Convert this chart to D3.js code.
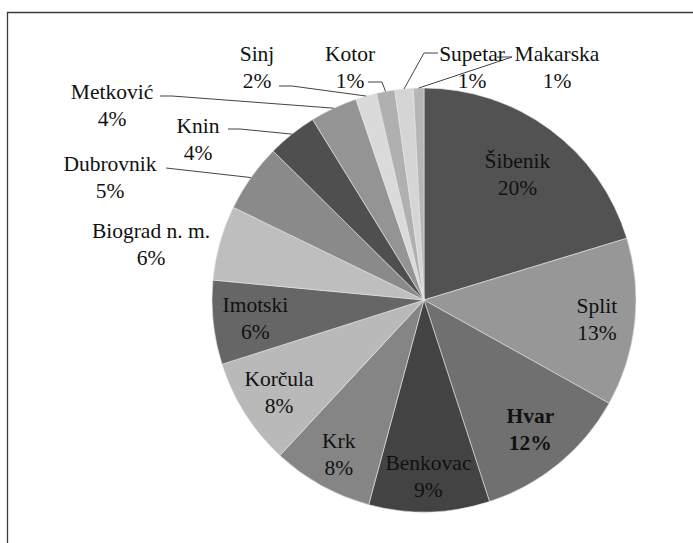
<!DOCTYPE html>
<html>
<head>
<meta charset="utf-8">
<script src="https://cdn.jsdelivr.net/npm/d3@7"></script>
<style>
	body { margin: 0; background: #fff; }
</style>
</head>
<body>
<div id="chart"></div>
<script>
// data //
var towns = ['Šibenik', 'Split', 'Hvar', 'Benkovac', 'Krk', 'Korčula', 'Imotski', 'Biograd n. m.',
	'Dubrovnik', 'Knin', 'Metković', 'Sinj', 'Kotor', 'Supetar', 'Makarska']
var shares = [20.3, 12.8, 11.9, 9.2, 7.7, 8.2, 6.4, 5.7, 5.2, 3.8, 3.6, 1.6, 1.4, 1.4, 0.8]
var shades = ['#525252', '#979797', '#707070', '#434343', '#858585', '#b9b9b9', '#666666', '#bebebe',
	'#8a8a8a', '#4f4f4f', '#949494', '#dadada', '#b0b0b0', '#d5d5d5', '#b6b6b6']
var boldTowns = ['Hvar']

// layout //
var visWidth = 693,
		visHeight = 543,
		cx = 424,
		cy = 300,
		radius = 212,
		lineGap = 27,
		labelFont = "'Liberation Serif', 'Times New Roman', serif"

// inside labels: how far out (share of radius) each one sits
var insideLabels = {
	'Šibenik': 0.74,
	'Split': 0.82,
	'Hvar': 0.79,
	'Benkovac': 0.83,
	'Krk': 0.83,
	'Korčula': 0.81,
	'Imotski': 0.8
}

// labels that sit outside the pie, with the stub where the leader line starts
var outsideLabels = {
	'Biograd n. m.': { x: 151, y: 230 },
	'Dubrovnik': { x: 110, y: 163, stub: [[166, 168]] },
	'Knin': { x: 198, y: 125, stub: [[228, 129], [240, 129]] },
	'Metković': { x: 112, y: 91, stub: [[160, 96], [172, 96]] },
	'Sinj': { x: 257, y: 53, stub: [[279, 86], [292, 86]] },
	'Kotor': { x: 350, y: 53, stub: [[368, 82], [382, 82]] },
	'Supetar': { x: 472, y: 53, stub: [[438, 53], [424, 53]] },
	'Makarska': { x: 557, y: 53, stub: [[497, 57], [512, 57]] }
}

var total = d3.sum(shares)
var slices = towns.map(function(t, i) {
	return { town: t, share: shares[i], shade: shades[i] }
})

var vis = d3.select('#chart')
	.append('svg')
		.attr('width', visWidth)
		.attr('height', visHeight)

// frame (only top and left edges show in the crop)
vis.append('path')
	.attr('d', 'M7.5,' + visHeight + 'V12.5H' + visWidth)
	.attr('fill', 'none')
	.attr('stroke', '#3a3a3a')
	.attr('stroke-width', 1.3)

var pie = d3.pie()
	.sort(null)
	.value(function(d) { return d.share })

var arc = d3.arc()
	.innerRadius(0)
	.outerRadius(radius)

var edgeArc = d3.arc()
	.innerRadius(radius)
	.outerRadius(radius)

var g = vis.append('g')
	.attr('transform', 'translate(' + cx + ',' + cy + ')')

var arcs = pie(slices)

g.selectAll('path.slice')
		.data(arcs).enter()
	.append('path')
		.attr('class', 'slice')
		.attr('d', arc)
		.attr('fill', function(d) { return d.data.shade })
		.attr('stroke', '#e6e6e6')
		.attr('stroke-width', 0.6)

// leader lines
var line = d3.line()
arcs.forEach(function(d) {
	var o = outsideLabels[d.data.town]
	if (!o || !o.stub) return
	var end = edgeArc.centroid(d)
	var pts = o.stub.map(function(p) { return [p[0] - cx, p[1] - cy] })
	pts.push(end)
	g.append('path')
		.attr('d', line(pts))
		.attr('fill', 'none')
		.attr('stroke', '#444')
		.attr('stroke-width', 1)
})

// labels
arcs.forEach(function(d) {
	var o = outsideLabels[d.data.town],
			x, y1
	if (o) {
		x = o.x - cx
		y1 = o.y - cy
	} else {
		var k = insideLabels[d.data.town] || 0.8
		var c = d3.arc().innerRadius(radius * k).outerRadius(radius * k).centroid(d)
		x = c[0]
		y1 = c[1] - lineGap / 2
	}
	var txt = g.append('text')
		.attr('text-anchor', 'middle')
		.attr('font-family', labelFont)
		.attr('font-size', 21.5)
		.attr('fill', '#111')
		.attr('font-weight', boldTowns.indexOf(d.data.town) > -1 ? 'bold' : 'normal')
	txt.append('tspan')
		.attr('x', x)
		.attr('y', y1)
		.attr('dy', '0.35em')
		.text(d.data.town)
	txt.append('tspan')
		.attr('x', x)
		.attr('y', y1 + lineGap)
		.attr('dy', '0.35em')
		.text(Math.round(d.data.share / total * 100) + '%')
})
</script>
</body>
</html>
